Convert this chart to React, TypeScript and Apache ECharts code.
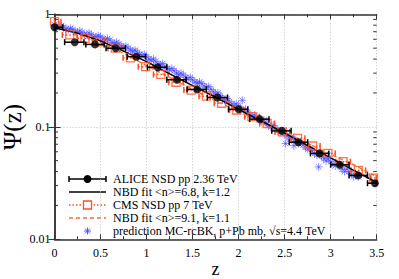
import React, { useEffect, useRef } from "react";
import * as echarts from "echarts";

const xTickValues = [0, 0.5, 1, 1.5, 2, 2.5, 3, 3.5];
const yMinorTicks = [0.02, 0.03, 0.04, 0.05, 0.06, 0.07, 0.08, 0.09, 0.2, 0.3, 0.4, 0.5, 0.6, 0.7, 0.8, 0.9];
const xTitle = "z";
const yTitle = "\u03A8(z)";

const legendLabels = [
  "ALICE NSD pp 2.36 TeV",
  "NBD fit <n>=6.8, k=1.2",
  "CMS NSD pp 7 TeV",
  "NBD fit <n>=9.1, k=1.1",
  "prediction MC-rcBK, p+Pb mb, \u221As=4.4 TeV",
];

// ALICE data
const aliceZ = [0, 0.22, 0.44, 0.665, 0.89, 1.12, 1.33, 1.55, 1.77, 2.0, 2.23, 2.47, 2.65, 2.88, 3.1, 3.3, 3.48];
const aliceV = [0.766, 0.565, 0.54, 0.499, 0.42, 0.338, 0.262, 0.215, 0.182, 0.143, 0.117, 0.092, 0.073, 0.058, 0.046, 0.037, 0.0315];
const aliceLo = [0, 0.11, 0.34, 0.56, 0.79, 1.01, 1.22, 1.44, 1.66, 1.89, 2.12, 2.36, 2.55, 2.78, 3.0, 3.2, 3.4];
const aliceHi = [0.09, 0.32, 0.54, 0.77, 0.99, 1.22, 1.43, 1.65, 1.88, 2.1, 2.33, 2.57, 2.75, 2.98, 3.2, 3.4, 3.5];

// CMS data
const cmsZ = [0, 0.165, 0.33, 0.495, 0.66, 0.825, 0.99, 1.155, 1.32, 1.485, 1.65, 1.815, 1.98, 2.145, 2.31, 2.475, 2.64, 2.805, 2.97, 3.135, 3.3, 3.465];
const cmsV = [0.86, 0.655, 0.61, 0.57, 0.5, 0.41, 0.342, 0.292, 0.249, 0.212, 0.187, 0.162, 0.141, 0.123, 0.107, 0.09, 0.079, 0.0675, 0.058, 0.049, 0.041, 0.035];
const cmsHalfWidth = [0.07, 0.08, 0.08, 0.08, 0.08, 0.08, 0.08, 0.08, 0.08, 0.08, 0.08, 0.08, 0.08, 0.08, 0.08, 0.08, 0.08, 0.08, 0.08, 0.08, 0.08, 0.03];

// NBD fits
const fitAliceZ = [0, 0.25, 0.5, 0.75, 1.0, 1.25, 1.5, 1.75, 2.0, 2.25, 2.5, 2.75, 3.0, 3.25, 3.5];
const fitAliceV = [0.76, 0.68, 0.58, 0.47, 0.38, 0.295, 0.232, 0.183, 0.143, 0.112, 0.088, 0.068, 0.053, 0.041, 0.032];
const fitCmsZ = [0, 0.25, 0.5, 0.75, 1.0, 1.25, 1.5, 1.75, 2.0, 2.25, 2.5, 2.75, 3.0, 3.25, 3.5];
const fitCmsV = [0.82, 0.66, 0.56, 0.45, 0.35, 0.275, 0.215, 0.17, 0.137, 0.11, 0.088, 0.071, 0.057, 0.046, 0.036];

// Prediction MC-rcBK
const predZa = [0, 0.05, 0.1, 0.15, 0.2, 0.25, 0.3, 0.35, 0.4, 0.45, 0.5, 0.55, 0.6, 0.65, 0.7, 0.75, 0.8, 0.85, 0.9, 0.95, 1.0, 1.05, 1.1, 1.15, 1.2, 1.25, 1.3, 1.35, 1.4, 1.45, 1.5, 1.55, 1.6, 1.65, 1.7, 1.75, 1.8, 1.85, 1.9, 1.95, 2.0, 2.05, 2.1, 2.15, 2.2, 2.25, 2.3, 2.35, 2.4, 2.45, 2.5, 2.55, 2.6, 2.65, 2.7, 2.75, 2.8, 2.85, 2.9, 2.95, 3.0, 3.05, 3.1, 3.15, 3.2, 3.25, 3.3];
const predVa = [0.81, 0.78, 0.77, 0.73, 0.73, 0.69, 0.69, 0.66, 0.66, 0.63, 0.63, 0.59, 0.59, 0.55, 0.545, 0.51, 0.5, 0.47, 0.46, 0.43, 0.42, 0.39, 0.38, 0.355, 0.345, 0.32, 0.315, 0.29, 0.288, 0.265, 0.262, 0.245, 0.242, 0.222, 0.215, 0.195, 0.19, 0.172, 0.168, 0.155, 0.152, 0.138, 0.135, 0.124, 0.121, 0.111, 0.109, 0.099, 0.098, 0.089, 0.087, 0.079, 0.077, 0.071, 0.069, 0.063, 0.061, 0.056, 0.055, 0.05, 0.049, 0.045, 0.045, 0.04, 0.04, 0.036, 0.036];
const predZb = [0.025, 0.075, 0.125, 0.175, 0.225, 0.275, 0.325, 0.375, 0.425, 0.475, 0.525, 0.575, 0.625, 0.675, 0.725, 0.775, 0.825, 0.875, 0.925, 0.975, 1.025, 1.075, 1.125, 1.175, 1.225, 1.275, 1.325, 1.375, 1.425, 1.475, 1.525, 1.575, 1.625, 1.675, 1.725, 1.775, 1.825, 1.875, 1.925, 1.975, 2.025, 2.075, 2.125, 2.175, 2.225, 2.275, 2.325, 2.375, 2.425, 2.475, 2.525, 2.575, 2.625, 2.675, 2.725, 2.775, 2.825, 2.875, 2.925, 2.975, 3.025, 3.075, 3.125, 3.175, 3.225, 3.275];
const predVb = [0.77, 0.79, 0.74, 0.75, 0.7, 0.71, 0.66, 0.68, 0.63, 0.645, 0.6, 0.61, 0.56, 0.565, 0.52, 0.52, 0.48, 0.48, 0.44, 0.44, 0.4, 0.4, 0.36, 0.365, 0.33, 0.33, 0.3, 0.3, 0.275, 0.275, 0.25, 0.25, 0.23, 0.228, 0.205, 0.2, 0.18, 0.178, 0.16, 0.16, 0.144, 0.143, 0.128, 0.127, 0.115, 0.115, 0.103, 0.103, 0.093, 0.092, 0.083, 0.082, 0.074, 0.073, 0.066, 0.065, 0.058, 0.058, 0.052, 0.052, 0.047, 0.047, 0.042, 0.042, 0.038, 0.037];
const predOutZ = [2.04, 2.51, 2.6, 2.87];
const predOutV = [0.172, 0.071, 0.068, 0.044];

const FONT = "'Liberation Serif', 'DejaVu Serif', serif";
const BLACK = "#000000";
const ORANGE = "#ff4f1f";
const ORANGE2 = "#ff6a33";
const BLUE = "#4545ff";
const AXIS = "#333333";
const GRID = { left: 54.5, top: 14.3, right: 22.3, bottom: 39.7 };
const ASTERISK = "path://M5,0L5,10M0,5L10,5M1.5,1.5L8.5,8.5M8.5,1.5L1.5,8.5";

export default function App() {
  const ref = useRef<HTMLDivElement>(null);
  useEffect(() => {
    if (!ref.current) return;
    const chart = echarts.init(ref.current, undefined, { renderer: "svg" });

    const predData = [
      ...predZa.map((z, i) => [z, predVa[i]]),
      ...predZb.map((z, i) => [z, predVb[i]]),
      ...predOutZ.map((z, i) => [z, predOutV[i]]),
    ];
    const aliceData = aliceZ.map((z, i) => [z, aliceV[i], aliceLo[i], aliceHi[i]]);
    const cmsErrData = cmsZ.map((z, i) => [z, cmsV[i], Math.max(0, z - cmsHalfWidth[i]), Math.min(3.5, z + cmsHalfWidth[i])]);

    const errRender = (color: string, dashed: boolean, lw: number) => (params: any, api: any) => {
      const y = api.value(1);
      const p0 = api.coord([api.value(2), y]);
      const p1 = api.coord([api.value(3), y]);
      const cap = 3;
      const style: any = { stroke: color, lineWidth: lw };
      if (dashed) style.lineDash = [1.5, 2];
      const capStyle = { stroke: color, lineWidth: lw };
      return {
        type: "group",
        children: [
          { type: "line", shape: { x1: p0[0], y1: p0[1], x2: p1[0], y2: p1[1] }, style },
          { type: "line", shape: { x1: p0[0], y1: p0[1] - cap, x2: p0[0], y2: p0[1] + cap }, style: capStyle },
          { type: "line", shape: { x1: p1[0], y1: p1[1] - cap, x2: p1[0], y2: p1[1] + cap }, style: capStyle },
        ],
      };
    };

    const minorRender = (params: any, api: any) => {
      const v = api.value(1);
      const pl = api.coord([0, v]);
      const pr = api.coord([3.5, v]);
      const len = 3.5;
      const st = { stroke: AXIS, lineWidth: 1 };
      return {
        type: "group",
        children: [
          { type: "line", shape: { x1: pl[0], y1: pl[1], x2: pl[0] + len, y2: pl[1] }, style: st },
          { type: "line", shape: { x1: pr[0], y1: pr[1], x2: pr[0] - len, y2: pr[1] }, style: st },
        ],
      };
    };

    // legend + axis titles
    const lx0 = 69, lx1 = 106, lxc = 87.5, tx = 113;
    const ly = [179, 192, 205, 218, 231];
    const graphics: any[] = [];
    legendLabels.forEach((label, i) => {
      graphics.push({
        type: "text",
        x: tx,
        y: ly[i],
        style: { text: label, font: `12px ${FONT}`, fill: BLACK, verticalAlign: "middle", align: "left", lineHeight: 11 },
        z: 10,
      });
    });
    graphics.push(
      {
        type: "text",
        x: 12,
        y: 127,
        rotation: Math.PI / 2,
        style: { text: yTitle, font: `25px ${FONT}`, fill: BLACK, align: "center", verticalAlign: "middle", lineHeight: 18 },
      },
      {
        type: "text",
        x: 215.6,
        y: 268.5,
        style: { text: xTitle, font: `18px ${FONT}`, fill: BLACK, align: "center", verticalAlign: "middle", lineHeight: 14 },
      },
      { type: "line", shape: { x1: lx0, y1: ly[0], x2: lx1, y2: ly[0] }, style: { stroke: BLACK, lineWidth: 1.5 } },
      { type: "line", shape: { x1: lx0, y1: ly[0] - 3, x2: lx0, y2: ly[0] + 3 }, style: { stroke: BLACK, lineWidth: 1.5 } },
      { type: "line", shape: { x1: lx1, y1: ly[0] - 3, x2: lx1, y2: ly[0] + 3 }, style: { stroke: BLACK, lineWidth: 1.5 } },
      { type: "circle", shape: { cx: lxc, cy: ly[0], r: 4 }, style: { fill: BLACK } },
      { type: "line", shape: { x1: lx0, y1: ly[1], x2: lx1, y2: ly[1] }, style: { stroke: BLACK, lineWidth: 1.5 } },
      { type: "line", shape: { x1: lx0, y1: ly[2], x2: lx1, y2: ly[2] }, style: { stroke: ORANGE, lineWidth: 1.5, lineDash: [1.5, 2] } },
      { type: "rect", shape: { x: lxc - 4, y: ly[2] - 4, width: 8, height: 8 }, style: { fill: "#fff", stroke: ORANGE, lineWidth: 1.3 } },
      { type: "line", shape: { x1: lx0, y1: ly[3], x2: lx1, y2: ly[3] }, style: { stroke: ORANGE2, lineWidth: 1.5, lineDash: [4, 3] } },
      {
        type: "group",
        x: lxc,
        y: ly[4],
        children: [
          { type: "line", shape: { x1: -3.5, y1: 0, x2: 3.5, y2: 0 }, style: { stroke: BLUE, lineWidth: 0.9 } },
          { type: "line", shape: { x1: 0, y1: -3.5, x2: 0, y2: 3.5 }, style: { stroke: BLUE, lineWidth: 0.9 } },
          { type: "line", shape: { x1: -2.5, y1: -2.5, x2: 2.5, y2: 2.5 }, style: { stroke: BLUE, lineWidth: 0.9 } },
          { type: "line", shape: { x1: 2.5, y1: -2.5, x2: -2.5, y2: 2.5 }, style: { stroke: BLUE, lineWidth: 0.9 } },
        ],
      }
    );

    const axisLabelStyle = { fontFamily: FONT, fontSize: 12, color: BLACK };

    chart.setOption({
      animation: false,
      backgroundColor: "#ffffff",
      textStyle: { fontFamily: FONT },
      grid: { ...GRID, containLabel: false, outerBoundsMode: "none" },
      xAxis: [
        {
          type: "value",
          min: 0,
          max: 3.5,
          interval: 0.5,
          position: "bottom",
          axisLine: { show: true, lineStyle: { color: AXIS, width: 1.5 } },
          axisTick: { show: true, inside: true, length: 5, lineStyle: { color: AXIS } },
          minorTick: { show: true, splitNumber: 2, length: 3, lineStyle: { color: AXIS } },
          axisLabel: {
            ...axisLabelStyle,
            margin: 8,
            formatter: (v: number) => (xTickValues.indexOf(v) >= 0 ? String(v) : ""),
          },
          splitLine: { show: true, lineStyle: { color: "#c0c0c0", type: [1, 2], width: 1 } },
        },
        {
          type: "value",
          min: 0,
          max: 3.5,
          interval: 0.5,
          position: "top",
          axisLine: { show: true, lineStyle: { color: AXIS, width: 1.5 } },
          axisTick: { show: true, inside: true, length: 5, lineStyle: { color: AXIS } },
          minorTick: { show: true, splitNumber: 2, length: 3, lineStyle: { color: AXIS } },
          axisLabel: { show: false },
          splitLine: { show: false },
        },
      ],
      yAxis: [
        {
          type: "log",
          logBase: 10,
          min: 0.01,
          max: 1,
          position: "left",
          axisLine: { show: true, lineStyle: { color: AXIS, width: 1.5 } },
          axisTick: { show: true, inside: true, length: 6, lineStyle: { color: AXIS } },
          axisLabel: { ...axisLabelStyle, margin: 4, formatter: (v: number) => (v >= 0.99 ? "1" : v >= 0.099 ? "0.1" : "0.01") },
          splitLine: { show: true, lineStyle: { color: "#c0c0c0", type: [1, 2], width: 1 } },
        },
        {
          type: "log",
          logBase: 10,
          min: 0.01,
          max: 1,
          position: "right",
          axisLine: { show: true, lineStyle: { color: AXIS, width: 1.5 } },
          axisTick: { show: true, inside: true, length: 6, lineStyle: { color: AXIS } },
          axisLabel: { show: false },
          splitLine: { show: false },
        },
      ],
      graphic: graphics,
      series: [
        {
          type: "custom",
          name: "minorY",
          silent: true,
          clip: false,
          renderItem: minorRender,
          encode: { x: 0, y: 1 },
          data: yMinorTicks.map((v) => [0, v]),
          z: 5,
        },
        {
          type: "scatter",
          name: legendLabels[4],
          data: predData,
          symbol: ASTERISK,
          symbolSize: 8,
          itemStyle: { color: "rgba(0,0,0,0)", borderColor: BLUE, borderWidth: 0.8, opacity: 0.75 },
          z: 2,
        },
        {
          type: "line",
          name: legendLabels[3],
          data: fitCmsZ.map((z, i) => [z, fitCmsV[i]]),
          showSymbol: false,
          lineStyle: { color: ORANGE2, width: 1.5, type: [4, 3] },
          z: 3,
        },
        {
          type: "custom",
          name: "cmsErr",
          renderItem: errRender(ORANGE, true, 1.5),
          encode: { x: [0, 2, 3], y: 1 },
          data: cmsErrData,
          z: 3,
        },
        {
          type: "scatter",
          name: legendLabels[2],
          data: cmsZ.map((z, i) => [z, cmsV[i]]),
          symbol: "rect",
          symbolSize: 8,
          itemStyle: { color: "rgba(255,255,255,0)", borderColor: ORANGE, borderWidth: 1.3 },
          z: 4,
        },
        {
          type: "line",
          name: legendLabels[1],
          data: fitAliceZ.map((z, i) => [z, fitAliceV[i]]),
          showSymbol: false,
          lineStyle: { color: BLACK, width: 1.5 },
          z: 4,
        },
        {
          type: "custom",
          name: "aliceErr",
          renderItem: errRender(BLACK, false, 1.5),
          encode: { x: [0, 2, 3], y: 1 },
          data: aliceData,
          z: 5,
        },
        {
          type: "scatter",
          name: legendLabels[0],
          data: aliceZ.map((z, i) => [z, aliceV[i]]),
          symbol: "circle",
          symbolSize: 8,
          itemStyle: { color: BLACK },
          z: 5,
        },
      ],
    });
    return () => chart.dispose();
  }, []);

  return <div ref={ref} style={{ position: "fixed", left: 0, top: 0, width: 399, height: 279, background: "#fff" }} />;
}
